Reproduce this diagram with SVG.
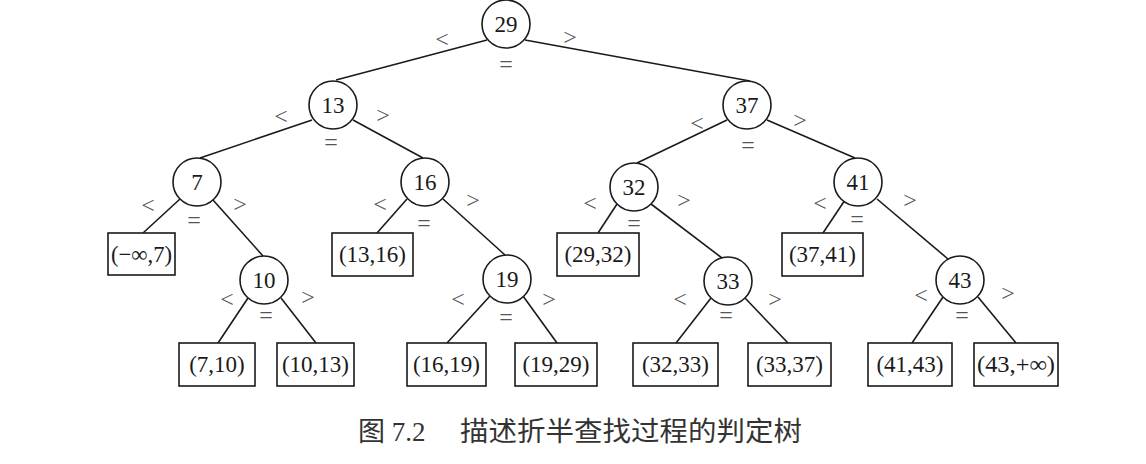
<svg xmlns="http://www.w3.org/2000/svg" width="1146" height="464" viewBox="0 0 1146 464">
<style>
.c{fill:#fff;stroke:#1a1a1a;stroke-width:1.6}
.b{fill:#fff;stroke:#1a1a1a;stroke-width:1.6}
.t{font-family:"Liberation Serif",serif;font-size:23px;fill:#1a1a1a;text-anchor:middle}
.l{font-family:"Liberation Serif",serif;font-size:24px;fill:#555;text-anchor:middle}
.e line{stroke:#1a1a1a;stroke-width:1.6}
.cap{font-family:"Liberation Serif","Noto Sans CJK SC",serif;font-size:27px;fill:#333}
</style>
<rect width="1146" height="464" fill="#fff"/>
<g id="edges" class="e">
<line x1="487" y1="40" x2="336" y2="80"/>
<line x1="525" y1="40" x2="750" y2="81"/>
<line x1="312" y1="120" x2="200" y2="158"/>
<line x1="353" y1="120" x2="423" y2="158"/>
<line x1="180" y1="199" x2="143" y2="233"/>
<line x1="213" y1="200" x2="263" y2="256"/>
<line x1="407" y1="199" x2="377" y2="233"/>
<line x1="443" y1="199" x2="505" y2="255"/>
<line x1="727" y1="120" x2="637" y2="163"/>
<line x1="767" y1="120" x2="855" y2="158"/>
<line x1="617" y1="204" x2="598" y2="233"/>
<line x1="651" y1="204" x2="722" y2="258"/>
<line x1="845" y1="200" x2="823" y2="233"/>
<line x1="877" y1="199" x2="948" y2="259"/>
<line x1="248" y1="298" x2="218" y2="343"/>
<line x1="281" y1="298" x2="316" y2="343"/>
<line x1="490" y1="296" x2="447" y2="343"/>
<line x1="523" y1="296" x2="557" y2="343"/>
<line x1="711" y1="298" x2="676" y2="343"/>
<line x1="745" y1="298" x2="788" y2="343"/>
<line x1="943" y1="297" x2="912" y2="343"/>
<line x1="978" y1="297" x2="1016" y2="343"/>
</g>
<g id="labels">
<text class="l" x="442" y="47">&lt;</text><text class="l" x="570" y="45">&gt;</text><text class="l" x="506" y="72">=</text>
<text class="l" x="281" y="124">&lt;</text><text class="l" x="383" y="123">&gt;</text><text class="l" x="331" y="150">=</text>
<text class="l" x="148" y="213">&lt;</text><text class="l" x="240" y="212">&gt;</text><text class="l" x="194" y="228">=</text>
<text class="l" x="380" y="212">&lt;</text><text class="l" x="473" y="208">&gt;</text><text class="l" x="424" y="231">=</text>
<text class="l" x="227" y="307">&lt;</text><text class="l" x="308" y="305">&gt;</text><text class="l" x="266" y="323">=</text>
<text class="l" x="458" y="307">&lt;</text><text class="l" x="549" y="307">&gt;</text><text class="l" x="506" y="325">=</text>
<text class="l" x="697" y="131">&lt;</text><text class="l" x="800" y="128">&gt;</text><text class="l" x="748" y="153">=</text>
<text class="l" x="590" y="211">&lt;</text><text class="l" x="684" y="208">&gt;</text><text class="l" x="634" y="231">=</text>
<text class="l" x="820" y="211">&lt;</text><text class="l" x="910" y="208">&gt;</text><text class="l" x="857" y="227">=</text>
<text class="l" x="680" y="307">&lt;</text><text class="l" x="775" y="307">&gt;</text><text class="l" x="726" y="323">=</text>
<text class="l" x="921" y="303">&lt;</text><text class="l" x="1008" y="301">&gt;</text><text class="l" x="962" y="323">=</text>
</g>
<g id="n29"><circle class="c" cx="506" cy="24" r="24"/><text class="t" x="506" y="32">29</text></g>
<g id="n13"><circle class="c" cx="333" cy="105" r="24"/><text class="t" x="333" y="113">13</text></g>
<g id="n37"><circle class="c" cx="747" cy="105" r="24"/><text class="t" x="747" y="113">37</text></g>
<g id="n7"><circle class="c" cx="197" cy="182" r="24"/><text class="t" x="197" y="190">7</text></g>
<g id="n16"><circle class="c" cx="425" cy="182" r="24"/><text class="t" x="425" y="190">16</text></g>
<g id="n32"><circle class="c" cx="634" cy="187" r="24"/><text class="t" x="634" y="195">32</text></g>
<g id="n41"><circle class="c" cx="858" cy="182" r="24"/><text class="t" x="858" y="190">41</text></g>
<g id="n10"><circle class="c" cx="264" cy="280" r="24"/><text class="t" x="264" y="288">10</text></g>
<g id="n19"><circle class="c" cx="507" cy="279" r="24"/><text class="t" x="507" y="287">19</text></g>
<g id="n33"><circle class="c" cx="728" cy="281" r="24"/><text class="t" x="728" y="289">33</text></g>
<g id="n43"><circle class="c" cx="960" cy="280" r="24"/><text class="t" x="960" y="288">43</text></g>
<g id="b1"><rect class="b" x="108" y="233" width="67" height="42"/><text class="t" x="141.5" y="262" textLength="61" lengthAdjust="spacingAndGlyphs">(−∞,7)</text></g>
<g id="b2"><rect class="b" x="332" y="233" width="81" height="43"/><text class="t" x="372.5" y="262">(13,16)</text></g>
<g id="b3"><rect class="b" x="557" y="233" width="82" height="43"/><text class="t" x="598" y="262">(29,32)</text></g>
<g id="b4"><rect class="b" x="782" y="233" width="81" height="43"/><text class="t" x="822.5" y="262">(37,41)</text></g>
<g id="b5"><rect class="b" x="179" y="343" width="76" height="43"/><text class="t" x="217" y="372">(7,10)</text></g>
<g id="b6"><rect class="b" x="277" y="343" width="77" height="43"/><text class="t" x="315.5" y="372">(10,13)</text></g>
<g id="b7"><rect class="b" x="407" y="343" width="79" height="43"/><text class="t" x="446.5" y="372">(16,19)</text></g>
<g id="b8"><rect class="b" x="515" y="343" width="82" height="43"/><text class="t" x="556" y="372">(19,29)</text></g>
<g id="b9"><rect class="b" x="633" y="343" width="85" height="43"/><text class="t" x="675.5" y="372">(32,33)</text></g>
<g id="b10"><rect class="b" x="748" y="343" width="83" height="43"/><text class="t" x="789.5" y="372">(33,37)</text></g>
<g id="b11"><rect class="b" x="868" y="343" width="84" height="43"/><text class="t" x="910" y="372">(41,43)</text></g>
<g id="b12"><rect class="b" x="974" y="343" width="84" height="43"/><text class="t" x="1016" y="372" textLength="78" lengthAdjust="spacingAndGlyphs">(43,+∞)</text></g>
<g id="caption"><text class="cap" x="358" y="441">图 7.2</text><text class="cap" x="460" y="441" textLength="342" lengthAdjust="spacingAndGlyphs">描述折半查找过程的判定树</text></g>
</svg>
